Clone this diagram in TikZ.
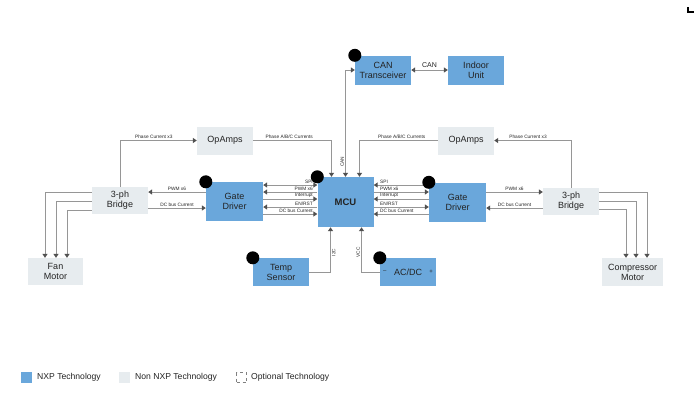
\documentclass[tikz,border=0pt]{standalone}
\usepackage{fontspec}
\setmainfont{Liberation Sans}
\usetikzlibrary{arrows.meta}
\definecolor{nxpblue}{RGB}{106,167,219}
\definecolor{nongray}{RGB}{231,236,239}
\definecolor{wiregray}{RGB}{150,150,150}
\definecolor{tipgray}{RGB}{80,80,80}
\definecolor{txt}{RGB}{35,35,35}

\begin{document}
\begin{tikzpicture}
  [x=1pt,y=-1pt,
   box/.style={minimum width=56pt,minimum height=28pt,inner sep=0pt,align=center,
     font=\fontsize{9}{10}\selectfont,text=txt},
   nxp/.style={box,fill=nxpblue},
   non/.style={box,fill=nongray},
   wire/.style={draw=wiregray,line width=1pt},
   >={Triangle[width=5pt,length=4pt,color=tipgray]},
   lab/.style={font=\fontsize{4.8}{5}\selectfont,text=txt,inner sep=1pt},
   dot/.style={circle,fill=black,minimum size=13pt,inner sep=0pt},
   legsq/.style={minimum size=11pt,inner sep=0pt},
   legtxt/.style={font=\fontsize{8.6}{9}\selectfont,text=txt,anchor=west,inner sep=2pt}]
  \useasboundingbox (0,0) rectangle (698,392);

  % blocks
  \node[nxp,minimum height=29pt] (can) at (383,70) {CAN\\Transceiver};
  \node[nxp,minimum height=29pt] (indoor) at (476,70) {Indoor\\Unit};
  \node[non] (opl) at (225,140.5) {OpAmps};
  \node[non] (opr) at (466,140.5) {OpAmps};
  \node[non,minimum height=27pt] (brl) at (120,200.5) {3-ph\\Bridge};
  \node[nxp,minimum width=57pt,minimum height=39pt] (gdl) at (234.5,201.5) {Gate\\Driver};
  \node[nxp,minimum height=50pt,font=\fontsize{9.5}{10}\selectfont\bfseries] (mcu) at (345.5,202) {MCU};
  \node[nxp,minimum width=57pt,minimum height=39pt] (gdr) at (457.5,202) {Gate\\Driver};
  \node[non,minimum height=27pt] (brr) at (571,201.5) {3-ph\\Bridge};
  \node[non,minimum width=55pt,minimum height=27pt] (fan) at (55.5,271.5) {Fan\\Motor};
  \node[non,minimum width=61pt] (comp) at (632.5,272) {Compressor\\Motor};
  \node[nxp] (temp) at (281,272) {Temp\\Sensor};
  \node[nxp] (acdc) at (408,272) {AC/DC};
  \node[lab,font=\fontsize{6}{6}\selectfont] (acdc-m) at ([xshift=5pt]acdc.west) {--};
  \node[lab,font=\fontsize{6}{6}\selectfont] (acdc-p) at ([xshift=-5pt]acdc.east) {+};

  % MCU to gate drivers
  \foreach \y/\lab/\tip in {185/SPI/<->, 192/PWM x6/<-, 199/Interrupt/->, 207/{EN/RST}/<-, 214/DC bus Current/->}
  {
    \draw[wire,\tip] (gdl.east |- 0,\y) -- (mcu.west |- 0,\y)
      node[lab,pos=1,anchor=south east,xshift=-3pt] {\lab};
    \draw[wire,\tip] (gdr.west |- 0,\y) -- (mcu.east |- 0,\y)
      node[lab,pos=1,anchor=south west,xshift=5pt] {\lab};
  }

  % gate drivers to bridges
  \draw[wire,<-] (brl.east |- 0,192) -- (gdl.west |- 0,192) node[lab,midway,above] {PWM x6};
  \draw[wire,->] (brl.east |- 0,208) -- (gdl.west |- 0,208) node[lab,midway,above] {DC bus Current};
  \draw[wire,->] (gdr.east |- 0,192) -- (brr.west |- 0,192) node[lab,midway,above] {PWM x6};
  \draw[wire,<-] (gdr.east |- 0,208) -- (brr.west |- 0,208) node[lab,midway,above] {DC bus Current};

  % current sensing
  \draw[wire,->] (brl.north) |- (opl.west) node[lab,pos=0.72,above] {Phase Current x3};
  \draw[wire,->] (opl.east) -| ([xshift=-14pt]mcu.north) node[lab,pos=0.23,above] {Phase A/B/C Currents};
  \draw[wire,->] (brr.north) |- (opr.east) node[lab,pos=0.78,above] {Phase Current x3};
  \draw[wire,->] (opr.west) -| ([xshift=14pt]mcu.north) node[lab,pos=0.23,above] {Phase A/B/C Currents};

  % CAN
  \draw[wire,<->] (mcu.north) |- (can.west) node[lab,pos=0.07,rotate=90,anchor=south] {CAN};
  \draw[wire,<->] (can) -- (indoor) node[lab,midway,above=1pt,font=\fontsize{7}{7}\selectfont] {CAN};

  % sensor and supply
  \draw[wire,->] (temp.east) -| ([xshift=-15pt]mcu.south) node[lab,pos=0.72,rotate=90,anchor=north] {I2C};
  \draw[wire,->] (acdc.west) -| ([xshift=16pt]mcu.south) node[lab,pos=0.72,rotate=90,anchor=south] {VCC};

  % motor phases
  \foreach \y/\x in {192/45, 201/56, 210/67}
    \draw[wire,->] (brl.west |- 0,\y) -| (fan.north -| \x,0);
  \foreach \y/\x in {192/647, 201/636, 209/626}
    \draw[wire,->] (brr.east |- 0,\y) -| (comp.north -| \x,0);

  % NXP markers
  \foreach \n in {can,gdl,mcu,gdr,temp,acdc}
    \node[dot] (\n-dot) at (\n.north west) {};

  % legend
  \node[legsq,fill=nxpblue] (leg-nxp) at (26.5,377.5) {};
  \node[legtxt] (leg-nxp-t) at (35,377.5) {NXP Technology};
  \node[legsq,fill=nongray] (leg-non) at (124.5,377.5) {};
  \node[legtxt] (leg-non-t) at (133,377.5) {Non NXP Technology};
  \node[legsq,draw=gray,dashed,line width=0.6pt,minimum size=10pt] (leg-opt) at (241.5,377.5) {};
  \node[legtxt] (leg-opt-t) at (249,377.5) {Optional Technology};

  % corner mark
  \draw[line width=1.6pt] (688,7) -- (688,12) -- (694,12);
\end{tikzpicture}
\end{document}
